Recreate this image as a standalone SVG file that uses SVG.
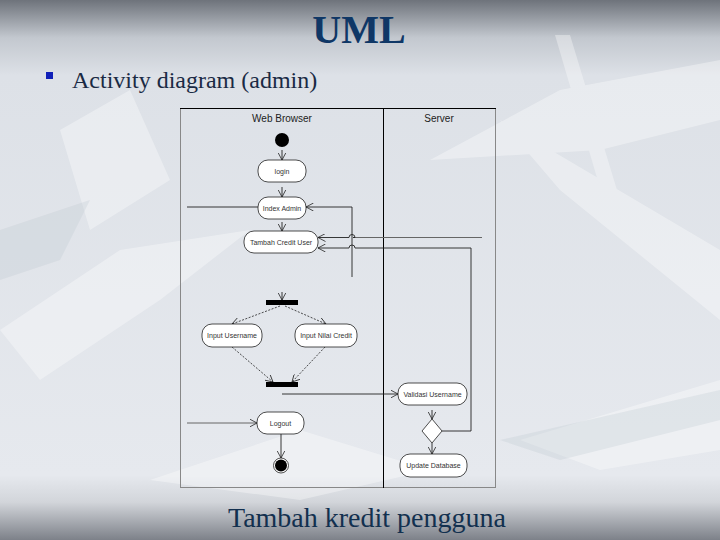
<svg xmlns="http://www.w3.org/2000/svg" width="720" height="540" viewBox="0 0 720 540">
<defs>
<linearGradient id="bg" x1="0" y1="0" x2="0" y2="1">
<stop offset="0" stop-color="#6e737b"/>
<stop offset="0.07" stop-color="#c3c8cf"/>
<stop offset="0.14" stop-color="#dde1e7"/>
<stop offset="0.88" stop-color="#e6e9ee"/>
<stop offset="0.93" stop-color="#d2d5da"/>
<stop offset="1" stop-color="#7d8189"/>
</linearGradient>
<marker id="ah" viewBox="0 0 8 8" refX="7.5" refY="4" markerWidth="8" markerHeight="8" markerUnits="userSpaceOnUse" orient="auto">
<path d="M0,0 L7.5,4 L0,8" fill="none" stroke="#222" stroke-width="0.8"/>
</marker>
<style>
.node rect{fill:#fff;stroke:#222;stroke-width:0.8}
.node text{font-family:"Liberation Sans",Arial,sans-serif;font-size:7px;fill:#333;text-anchor:middle}
.lane{font-family:"Liberation Sans",Arial,sans-serif;font-size:10px;fill:#222;text-anchor:middle}
.c{fill:none;stroke:#222;stroke-width:0.9}
.cd{fill:none;stroke:#222;stroke-width:0.8;stroke-dasharray:2 1.5}
.cg{fill:none;stroke:#666;stroke-width:1}
.a{marker-end:url(#ah)}
.bar{fill:#000}
</style>
</defs>
<rect width="720" height="540" fill="url(#bg)"/>
<g fill="#fff" opacity="0.35">
<polygon points="0,330 120,250 250,230 160,300 40,380"/>
<polygon points="430,160 560,90 720,60 720,120 600,150"/>
<polygon points="500,120 720,250 720,320 560,190"/>
<polygon points="150,480 300,430 430,470 300,500"/>
<polygon points="520,440 720,380 720,450 600,470"/>
<polygon points="60,130 130,90 170,180 90,230"/>
<polygon points="555,35 570,35 620,200 605,205"/>
</g>
<g opacity="0.25" fill="#b9c2cd">
<polygon points="500,440 720,390 720,420 560,460"/>
<polygon points="0,230 90,200 60,260 0,280"/>
</g>
<text x="359" y="43" font-family="Liberation Serif,Times New Roman,serif" font-size="40" font-weight="bold" fill="#0f3766" text-anchor="middle">UML</text>
<rect x="46" y="72" width="7" height="7" fill="#1020b8"/>
<text x="72" y="88" font-family="Liberation Serif,Times New Roman,serif" font-size="24" fill="#1a2a44">Activity diagram (admin)</text>
<text x="367" y="527" font-family="Liberation Serif,Times New Roman,serif" font-size="28" fill="#12304f" text-anchor="middle">Tambah kredit pengguna</text>

<g id="frame">
<line x1="180.5" y1="487.5" x2="495.5" y2="487.5" stroke="#888" stroke-width="1"/>
<line x1="180.5" y1="108" x2="180.5" y2="488" stroke="#888" stroke-width="1"/>
<line x1="495.5" y1="108" x2="495.5" y2="488" stroke="#888" stroke-width="1"/>
<line x1="180" y1="108.5" x2="496" y2="108.5" stroke="#000" stroke-width="1"/>
<line x1="383.5" y1="108" x2="383.5" y2="488" stroke="#000" stroke-width="1"/>
<text class="lane" x="282" y="122">Web Browser</text>
<text class="lane" x="439" y="122">Server</text>
</g>

<g id="connectors">
<line class="c a" x1="282" y1="150" x2="282" y2="160"/>
<line class="c a" x1="282" y1="187" x2="282" y2="197"/>
<line class="c a" x1="282" y1="222" x2="282" y2="231"/>
<line class="c" x1="187" y1="207" x2="258" y2="207"/>
<polyline class="c a" points="352,277 352,207 306,207"/>
<path class="cg" d="M353,237.5 L482,237.5"/>
<path class="c a" d="M353,237.5 L355,237.5 A3,3 0 0 0 349,237.5 L318,237.5"/>
<path class="c a" d="M442,431 L471,431 L471,248 L355,248 A3,3 0 0 0 349,248 L318,248"/>
<line class="c a" x1="282" y1="292" x2="282" y2="300"/>
<line class="cd a" x1="280" y1="306" x2="232" y2="324"/>
<line class="cd a" x1="285" y1="306" x2="326" y2="324"/>
<line class="cd a" x1="232" y1="347" x2="273" y2="382"/>
<line class="cd a" x1="325" y1="347" x2="292" y2="382"/>
<line class="c a" x1="282" y1="394" x2="398" y2="394"/>
<line class="c a" x1="432" y1="410" x2="432" y2="419"/>
<line class="c a" x1="432" y1="443" x2="432" y2="454"/>
<line class="cg a" x1="187" y1="423" x2="257" y2="423"/>
<line class="c a" x1="281" y1="434" x2="281" y2="458"/>
</g>

<g id="start"><circle cx="282" cy="140" r="7" fill="#000"/></g>
<g id="login" class="node"><rect x="258" y="160" width="48" height="22" rx="10"/><text x="282" y="173.5">login</text></g>
<g id="index-admin" class="node"><rect x="258" y="197" width="48" height="22" rx="10"/><text x="282" y="210.5">Index Admin</text></g>
<g id="tambah-credit-user" class="node"><rect x="244" y="231" width="74" height="22" rx="10"/><text x="281" y="244.5">Tambah Credit User</text></g>
<g id="fork"><rect class="bar" x="266" y="300" width="32" height="5"/></g>
<g id="input-username" class="node"><rect x="202" y="324" width="60" height="23" rx="10"/><text x="232" y="338">Input Username</text></g>
<g id="input-nilai-credit" class="node"><rect x="295" y="324" width="62" height="23" rx="10"/><text x="326" y="338">Input Nilai Credit</text></g>
<g id="join"><rect class="bar" x="266" y="382" width="32" height="5"/></g>
<g id="validasi-username" class="node"><rect x="398" y="383" width="69" height="22" rx="10"/><text x="432.5" y="396.5">Validasi Username</text></g>
<g id="decision"><polygon points="432,419 442,431 432,443 422,431" fill="#fff" stroke="#222" stroke-width="0.8"/></g>
<g id="update-database" class="node"><rect x="400" y="454" width="67" height="23" rx="10"/><text x="433.5" y="468">Update Database</text></g>
<g id="logout" class="node"><rect x="257" y="412" width="47" height="22" rx="10"/><text x="280.5" y="425.5">Logout</text></g>
<g id="end"><circle cx="281" cy="465.5" r="7.5" fill="#fff" stroke="#222" stroke-width="0.8"/><circle cx="281" cy="465.5" r="6" fill="#000"/></g>
</svg>
